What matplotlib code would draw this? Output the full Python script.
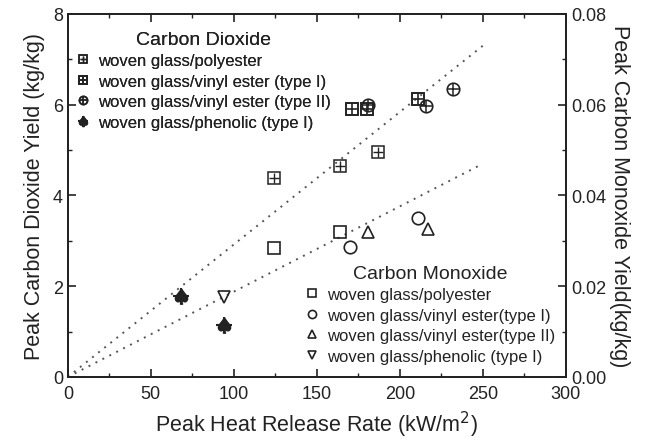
import matplotlib.pyplot as plt
from matplotlib.ticker import MultipleLocator
from matplotlib.legend_handler import HandlerTuple

plt.rcParams['font.family'] = ['Liberation Sans', 'DejaVu Sans']

# Carbon dioxide yields (left axis, kg/kg)
co2_poly_x = [124, 164, 187]
co2_poly_y = [4.38, 4.65, 4.95]
co2_ve1_x = [171, 180, 211]
co2_ve1_y = [5.9, 5.9, 6.13]
co2_ve2_x = [181, 216, 232]
co2_ve2_y = [6.0, 5.98, 6.35]
co2_phen_x = [68, 94]
co2_phen_y = [1.78, 1.15]

# Carbon monoxide yields (right axis, kg/kg)
co_poly_x = [124, 164]
co_poly_y = [0.0285, 0.032]
co_ve1_x = [170, 211]
co_ve1_y = [0.0287, 0.035]
co_ve2_x = [181, 217]
co_ve2_y = [0.032, 0.0327]
co_phen_x = [94]
co_phen_y = [0.0177]

# dotted trend lines
fit_x = [0, 250]
co2_fit = [0, 7.3]
co_fit = [0, 0.047]

ink = '#222222'

fig = plt.figure(figsize=(6.46, 4.39), dpi=100)
ax = fig.add_axes([0.105, 0.139, 0.771, 0.827])
ax2 = ax.twinx()

ax.plot(fit_x, co2_fit, color='#555555', linestyle=(0, (1, 3)), lw=1.4)
ax2.plot(fit_x, co_fit, color='#555555', linestyle=(0, (1, 3)), lw=1.4)

ms = 8
h1a, = ax.plot(co2_poly_x, co2_poly_y, 's', ms=ms, mfc='none', mec=ink, mew=1.1, ls='none')
h1b, = ax.plot(co2_poly_x, co2_poly_y, '+', ms=ms - 1, mec=ink, mew=1.0, ls='none')
h2a, = ax.plot(co2_ve1_x, co2_ve1_y, 's', ms=ms, mfc='none', mec=ink, mew=1.4, ls='none')
h2b, = ax.plot(co2_ve1_x, co2_ve1_y, '+', ms=ms - 1, mec=ink, mew=1.2, ls='none')
h3a, = ax.plot(co2_ve2_x, co2_ve2_y, 'o', ms=ms + 1, mfc='none', mec=ink, mew=1.2, ls='none')
h3b, = ax.plot(co2_ve2_x, co2_ve2_y, '+', ms=ms, mec=ink, mew=1.1, ls='none')
h4, = ax.plot(co2_phen_x, co2_phen_y, marker=r'$\spadesuit$', ms=ms + 3, color=ink, ls='none')
h4b, = ax.plot(co2_phen_x, co2_phen_y, '+', ms=ms + 3, mec=ink, mew=1.5, ls='none')

c1, = ax2.plot(co_poly_x, co_poly_y, 's', ms=ms, mfc='none', mec=ink, mew=1.2, ls='none')
c2, = ax2.plot(co_ve1_x, co_ve1_y, 'o', ms=ms + 1, mfc='none', mec=ink, mew=1.2, ls='none')
c3, = ax2.plot(co_ve2_x, co_ve2_y, '^', ms=ms + 1, mfc='none', mec=ink, mew=1.2, ls='none')
c4, = ax2.plot(co_phen_x, co_phen_y, 'v', ms=ms + 1, mfc='none', mec=ink, mew=1.2, ls='none')

ax.set_xlim(0, 300)
ax.set_ylim(0, 8)
ax2.set_ylim(0, 0.08)
ax.xaxis.set_major_locator(MultipleLocator(50))
ax.xaxis.set_minor_locator(MultipleLocator(25))
ax.yaxis.set_major_locator(MultipleLocator(2))
ax.yaxis.set_minor_locator(MultipleLocator(1))
ax2.yaxis.set_major_locator(MultipleLocator(0.02))
ax2.yaxis.set_minor_locator(MultipleLocator(0.01))
ax2.yaxis.set_major_formatter(lambda v, p: f'{v:.2f}')

for a in (ax, ax2):
    a.tick_params(which='both', direction='in', colors=ink, labelsize=13)
    a.tick_params(which='major', length=6, width=1.2)
    a.tick_params(which='minor', length=3, width=1.0)
    for s in a.spines.values():
        s.set_linewidth(1.3)
        s.set_color(ink)
ax.tick_params(which='both', top=True)
ax.tick_params(axis='x', pad=6)

ax.set_xlabel('Peak Heat Release Rate (kW/m$^2$)', fontsize=15.5, color=ink, labelpad=5)
ax.set_ylabel('Peak Carbon Dioxide Yield (kg/kg)', fontsize=15.5, color=ink, labelpad=6)
ax2.set_ylabel('Peak Carbon Monoxide Yield(kg/kg)', fontsize=15.5, color=ink,
               rotation=270, labelpad=17)

leg_kw = dict(title_fontsize=14, fontsize=12, frameon=False, loc='upper left',
              bbox_transform=fig.transFigure, borderaxespad=0, borderpad=0,
              handlelength=0.8, handletextpad=0.5, labelspacing=0.33,
              markerscale=0.65)

leg1 = ax.legend([(h1a, h1b), (h2a, h2b), (h3a, h3b), (h4, h4b)],
                 ['woven glass/polyester', 'woven glass/vinyl ester (type I)',
                  'woven glass/vinyl ester (type II)', 'woven glass/phenolic (type I)'],
                 handler_map={tuple: HandlerTuple(ndivide=1)},
                 title='Carbon Dioxide', bbox_to_anchor=(0.118, 0.928), **leg_kw)
for t in leg1.get_texts():
    t.set_color(ink)
leg1.get_title().set_color(ink)
ax.add_artist(leg1)

leg2 = ax2.legend([c1, c2, c3, c4],
                  ['woven glass/polyester', 'woven glass/vinyl ester(type I)',
                   'woven glass/vinyl ester(type II)', 'woven glass/phenolic (type I)'],
                  title='Carbon Monoxide', bbox_to_anchor=(0.473, 0.395), **leg_kw)
for t in leg2.get_texts():
    t.set_color(ink)
leg2.get_title().set_color(ink)

fig.savefig('out.png', dpi=100)
